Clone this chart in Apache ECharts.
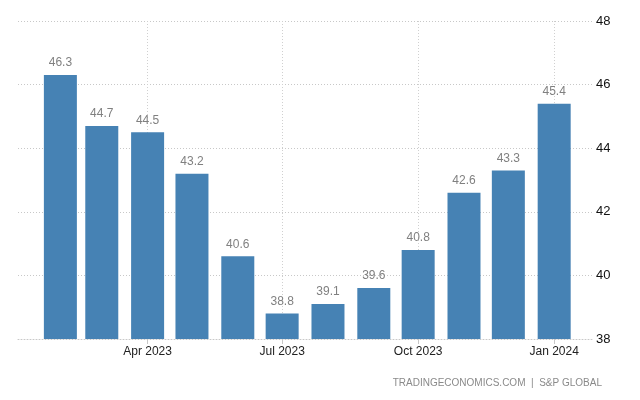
<!DOCTYPE html>
<html>
<head>
<meta charset="utf-8">
<script src="https://cdn.jsdelivr.net/npm/echarts@6/dist/echarts.min.js"></script>
<style>html,body{margin:0;padding:0;background:#fff}#c{width:640px;height:400px}</style>
</head>
<body>
<div id="c"></div>
<script>
var months = ['2023-02-01','2023-03-01','2023-04-01','2023-05-01','2023-06-01','2023-07-01','2023-08-01','2023-09-01','2023-10-01','2023-11-01','2023-12-01','2024-01-01'];
var values = [46.3, 44.7, 44.5, 43.2, 40.6, 38.8, 39.1, 39.6, 40.8, 42.6, 43.3, 45.4];
var yTicks = [38, 40, 42, 44, 46, 48];
var monthNames = ['Jan','Feb','Mar','Apr','May','Jun','Jul','Aug','Sep','Oct','Nov','Dec'];

function ts(s){ var p = s.split('-'); return Date.UTC(+p[0], +p[1]-1, +p[2]); }
var data = months.map(function(m,i){ return [ts(m), values[i]]; });
var xMin = Date.UTC(2023,0,3,8);
var xMax = Date.UTC(2024,0,26,14);
var FONT = 'Liberation Sans';

var chart = echarts.init(document.getElementById('c'), null, {renderer:'canvas'});
chart.setOption({
  animation: false,
  useUTC: true,
  grid: {left: 18, right: 48, top: 21, bottom: 61, containLabel: false},
  xAxis: [{
    type: 'value', min: xMin, max: xMax, position: 'bottom',
    show: false
  }, {
    type: 'time', min: xMin, max: xMax, position: 'bottom',
    splitNumber: 4,
    minInterval: 80*86400000,
    axisLine: {show: true, lineStyle: {color: '#c8c8c8', type: [1,2]}},
    axisTick: {show: true, length: 5, lineStyle: {color: '#c8c8c8'}},
    splitLine: {show: true, showMinLine: false, showMaxLine: false, lineStyle: {color: '#d0d0d0', type: [1,2]}},
    axisLabel: {
      color: '#222', fontSize: 12, fontFamily: FONT, margin: 7,
      formatter: function(v){ var d = new Date(v); return monthNames[d.getUTCMonth()] + ' ' + d.getUTCFullYear(); }
    }
  }],
  yAxis: {
    type: 'value', position: 'right',
    min: yTicks[0], max: yTicks[yTicks.length-1], interval: 2,
    axisLine: {show: false}, axisTick: {show: false},
    splitLine: {show: true, lineStyle: {color: '#c8c8c8', type: [1,2]}},
    axisLabel: {color: '#111', fontSize: 13, fontFamily: FONT, margin: 4}
  },
  series: [{
    type: 'bar',
    xAxisIndex: 0,
    data: data,
    barWidth: 33,
    itemStyle: {color: '#4682b4'},
    label: {show: true, position: 'top', distance: 6, color: '#808080', fontSize: 12, fontFamily: FONT}
  }],
  graphic: [{
    type: 'text', right: 38, top: 378,
    style: {text: 'TRADINGECONOMICS.COM  |  S&P GLOBAL', fill: '#8a8a8a', fontSize: 10, fontFamily: FONT}
  }]
});
</script>
</body>
</html>
